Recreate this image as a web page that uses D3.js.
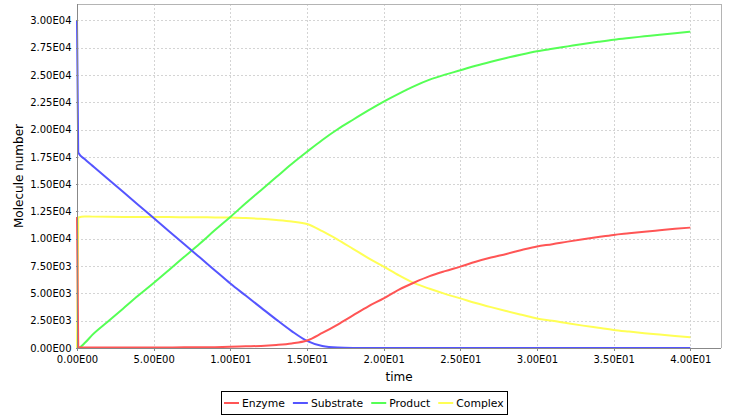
<!DOCTYPE html>
<html>
<head>
<meta charset="utf-8">
<script src="https://cdn.jsdelivr.net/npm/d3@7"></script>
<style>
  html, body { margin: 0; padding: 0; background: #ffffff; }
  svg { display: block; }
  text { font-family: "DejaVu Sans", sans-serif; fill: #000; }
</style>
</head>
<body>
<svg id="chart" width="729" height="416"></svg>
<script>
// ---- data ----
const seriesNames = ["Enzyme", "Substrate", "Product", "Complex"];
const seriesColors = ["#ff5555", "#5555ff", "#55ff55", "#ffff55"];

const time = [0, 0.08, 0.5, 1, 2, 3, 4, 5, 6, 7, 8, 9, 10, 11, 12, 13, 14, 15, 16, 17, 18, 19, 20,
              21, 22, 23, 24, 25, 26, 27, 28, 29, 30, 31, 32, 33, 34, 35, 36, 37, 38, 39, 40];

const enzyme = [12000, 60, 40, 40, 45, 45, 50, 50, 55, 60, 70, 80, 110, 150, 190, 280, 420, 690, 1380, 2150, 2990, 3820, 4540,
                5350, 6000, 6580, 7040, 7455, 7900, 8280, 8616, 8970, 9300, 9500, 9740, 9960, 10160, 10350, 10500, 10650, 10780, 10910, 11025];

const substrate = [30000, 17900, 17300, 16700, 15500, 14300, 13100, 11900, 10700, 9500, 8300, 7100, 5900, 4800, 3700, 2600, 1550, 650, 180, 40, 8, 0, 0,
                   0, 0, 0, 0, 0, 0, 0, 0, 0, 0, 0, 0, 0, 0, 0, 0, 0, 0, 0, 0];

const product = [0, 0, 450, 1200, 2400, 3600, 4800, 5950, 7150, 8350, 9550, 10800, 12000, 13250, 14450, 15650, 16850, 17970, 19050, 20030, 20900, 21750, 22560,
                 23300, 23980, 24570, 25030, 25430, 25850, 26220, 26560, 26880, 27170, 27400, 27620, 27840, 28040, 28230, 28390, 28540, 28690, 28830, 28960];

const complex = [0, 11950, 12050, 12030, 12010, 12000, 12000, 11990, 11990, 11980, 11970, 11960, 11950, 11900, 11830, 11720, 11580, 11350, 10700, 9930, 9080, 8230, 7460,
                 6650, 5940, 5420, 4960, 4545, 4120, 3740, 3384, 3040, 2700, 2500, 2270, 2050, 1850, 1650, 1500, 1360, 1230, 1100, 975];

const xTicks = [0, 5, 10, 15, 20, 25, 30, 35, 40];
const yTicks = [0, 2500, 5000, 7500, 10000, 12500, 15000, 17500, 20000, 22500, 25000, 27500, 30000];

const xLabel = "time";
const yLabel = "Molecule number";

// ---- layout ----
const svg = d3.select("#chart");
const plot = { left: 77, right: 721, top: 4, bottom: 348 };

const x = d3.scaleLinear().domain([0, 42]).range([plot.left, plot.right]);
const y = d3.scaleLinear().domain([0, 31500]).range([plot.bottom, plot.top]);

function fmtE(v) {
  if (v === 0) return "0.00E00";
  const s = v.toExponential(2); // e.g. "2.50e+4"
  const [m, e] = s.split("e");
  const n = parseInt(e, 10);
  const sign = n < 0 ? "-" : "";
  return m + "E" + sign + String(Math.abs(n)).padStart(2, "0");
}

// background
svg.append("rect").attr("x", 0).attr("y", 0).attr("width", 729).attr("height", 416).attr("fill", "#fff");
svg.append("rect")
  .attr("x", plot.left).attr("y", plot.top)
  .attr("width", plot.right - plot.left).attr("height", plot.bottom - plot.top)
  .attr("fill", "#fff");

// gridlines
const grid = svg.append("g").attr("shape-rendering", "crispEdges");
grid.selectAll("line.gx").data(xTicks.filter(d => d > 0)).join("line")
  .attr("x1", d => Math.round(x(d)) + 0.5).attr("x2", d => Math.round(x(d)) + 0.5)
  .attr("y1", plot.top).attr("y2", plot.bottom)
  .attr("stroke", "#d4d4d4").attr("stroke-dasharray", "2,2");
grid.selectAll("line.gy").data(yTicks.filter(d => d > 0)).join("line")
  .attr("y1", d => Math.round(y(d)) + 0.5).attr("y2", d => Math.round(y(d)) + 0.5)
  .attr("x1", plot.left).attr("x2", plot.right)
  .attr("stroke", "#d4d4d4").attr("stroke-dasharray", "2,2");

// outline (top/right)
svg.append("path")
  .attr("d", `M${plot.left},${plot.top + 0.5}H${plot.right + 0.5}V${plot.bottom}`)
  .attr("fill", "none").attr("stroke", "#b4b4b4").attr("shape-rendering", "crispEdges");

// series
const series = [enzyme, substrate, product, complex];
const lineGen = d3.line().curve(d3.curveMonotoneX).x((d, i) => x(time[i])).y(d => y(d));
const linesG = svg.append("g");
for (let k = series.length - 1; k >= 0; k--) {
  linesG.append("path")
    .datum(series[k])
    .attr("d", lineGen)
    .attr("fill", "none")
    .attr("stroke", seriesColors[k])
    .attr("stroke-width", 2)
    .attr("stroke-linejoin", "round");
}

// axes
const xAxis = d3.axisBottom(x).tickValues(xTicks).tickFormat(fmtE).tickSize(2).tickPadding(5);
const yAxis = d3.axisLeft(y).tickValues(yTicks).tickFormat(fmtE).tickSize(2).tickPadding(4);

const gx = svg.append("g").attr("transform", `translate(0,${plot.bottom + 0.5})`).call(xAxis);
const gy = svg.append("g").attr("transform", `translate(${plot.left + 0.5},0)`).call(yAxis);
[gx, gy].forEach(g => {
  g.select(".domain").attr("stroke", "#888").attr("shape-rendering", "crispEdges");
  g.selectAll(".tick line").attr("stroke", "#888").attr("shape-rendering", "crispEdges");
  g.selectAll(".tick text").attr("font-family", "DejaVu Sans, sans-serif").attr("font-size", 10).attr("fill", "#000");
});
gx.select(".domain").attr("d", `M${plot.left},0H${plot.right}`);
gy.select(".domain").attr("d", `M0,${plot.top}V${plot.bottom}`);

// axis labels
svg.append("text").attr("x", (plot.left + plot.right) / 2).attr("y", 381)
  .attr("text-anchor", "middle").attr("font-size", 12).text(xLabel);
svg.append("text").attr("transform", `translate(23,${(plot.top + plot.bottom) / 2}) rotate(-90)`)
  .attr("text-anchor", "middle").attr("font-size", 12).text(yLabel);

// legend
const legend = svg.append("g");
const box = legend.append("rect").attr("fill", "#fff").attr("stroke", "#000").attr("stroke-width", 1)
  .attr("shape-rendering", "crispEdges");
let cx = 0;
seriesNames.forEach((name, i) => {
  const g = legend.append("g");
  g.append("line").attr("x1", cx + 2).attr("x2", cx + 17).attr("y1", 0).attr("y2", 0)
    .attr("stroke", seriesColors[i]).attr("stroke-width", 2);
  const t = g.append("text").attr("x", cx + 20).attr("y", 4).attr("font-size", 10.8).text(name);
  const w = t.node().getComputedTextLength();
  cx += 20 + w + 6;
});
const totalW = cx - 3;
const lx = Math.round(729 / 2 - totalW / 2);
legend.attr("transform", `translate(${lx},403)`);
box.attr("x", -0.5).attr("y", -11.5).attr("width", totalW + 1).attr("height", 23);
</script>
</body>
</html>
